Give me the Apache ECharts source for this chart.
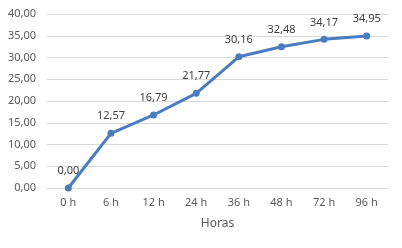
<!DOCTYPE html>
<html><head><meta charset="utf-8">
<script src="https://cdn.jsdelivr.net/npm/echarts@6/dist/echarts.min.js"></script>
<style>html,body{margin:0;padding:0;background:#fff}#c{width:402px;height:248px}</style>
</head><body><div id="c"></div>
<script>
const categories = ['0 h','6 h','12 h','24 h','36 h','48 h','72 h','96 h'];
const values = [0.00, 12.57, 16.79, 21.77, 30.16, 32.48, 34.17, 34.95];
const xAxisName = 'Horas';
const fmt = v => v.toFixed(2).replace('.', ',');
const chart = echarts.init(document.getElementById('c'), null, {renderer:'canvas'});
chart.setOption({
  animation:false,
  textStyle:{fontFamily:'Noto Sans'},
  grid:{left:47,right:14,top:14,bottom:60},
  xAxis:{type:'category',data:categories,boundaryGap:true,
    name:xAxisName,nameLocation:'middle',nameGap:30,
    nameTextStyle:{color:'#595959',fontSize:12,fontFamily:'Noto Sans'},
    axisLine:{show:true,lineStyle:{color:'#d9d9d9'}},axisTick:{show:false},
    axisLabel:{color:'#595959',fontSize:11,margin:9,fontFamily:'Noto Sans'}},
  yAxis:{type:'value',min:0,max:40,interval:5,
    axisLine:{show:false},axisTick:{show:false},
    splitLine:{lineStyle:{color:'#d9d9d9'}},
    axisLabel:{color:'#595959',fontSize:11,margin:11,formatter:fmt,fontFamily:'Noto Sans'}},
  series:[{type:'line',data:values,symbol:'circle',symbolSize:7,
    lineStyle:{color:'#4a7cc0',width:3},itemStyle:{color:'#4a7cc0'},
    label:{show:true,position:'top',distance:8,color:'#404040',fontSize:11,fontFamily:'Noto Sans',
      formatter:p=>fmt(p.value)}}]
});
</script></body></html>
